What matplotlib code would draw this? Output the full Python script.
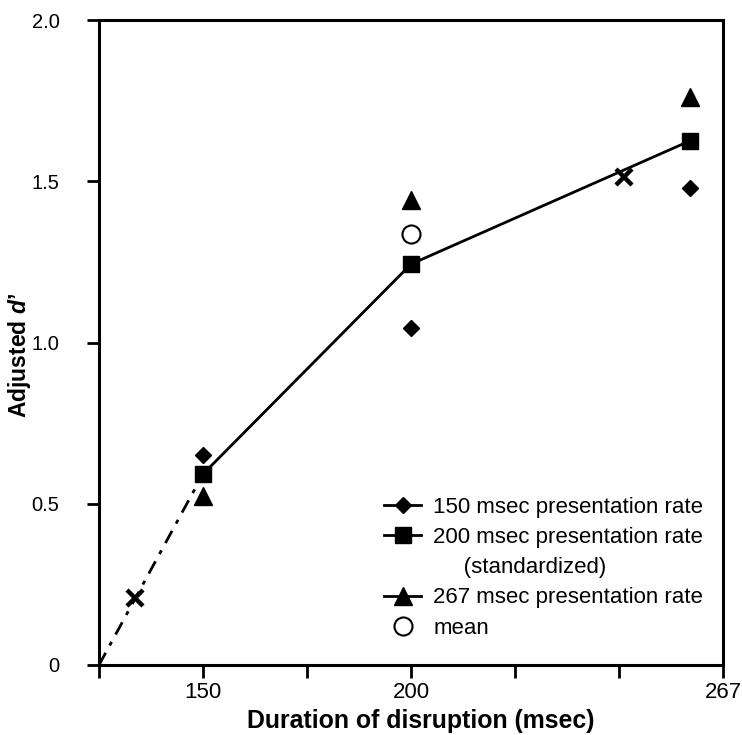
import matplotlib
matplotlib.use("Agg")
import matplotlib.pyplot as plt
from matplotlib.lines import Line2D

plt.rcParams['font.family'] = ['Liberation Sans', 'DejaVu Sans']
plt.rcParams['mathtext.fontset'] = 'custom'
plt.rcParams['mathtext.it'] = 'Liberation Sans:bold:italic'
plt.rcParams['mathtext.rm'] = 'Liberation Sans:bold'

# ---- data ----
durations = [150, 200, 267]
rate150 = [0.651, 1.045, 1.478]
rate200 = [0.592, 1.243, 1.625]
rate267 = [0.525, 1.443, 1.760]
mean_x = [200]
mean_y = [1.336]
interp_x = [133.7, 251.1]
interp_y = [0.208, 1.512]
extrap_x = [125, 150]
extrap_y = [0.0, 0.592]

xtick_pos = [125, 150, 175, 200, 225, 250, 275]
xtick_labels = ['', '150', '', '200', '', '', '267']
ytick_pos = [0, 0.5, 1.0, 1.5, 2.0]
ytick_labels = ['0', '0.5', '1.0', '1.5', '2.0']

legend_labels = ['150 msec presentation rate', '200 msec presentation rate',
                 '     (standardized)', '267 msec presentation rate', 'mean']

fig = plt.figure(figsize=(7.42, 7.35), dpi=100)
ax = fig.add_axes([99/742, 70/735, 624/742, 645/735])

ax.plot(extrap_x, extrap_y, color='black', lw=2, dashes=[5, 3, 1.5, 3], zorder=2)
ax.plot(durations, rate200, color='black', lw=2, zorder=2)
ax.plot(durations, rate150, ls='none', marker='D', ms=8.5, color='black', zorder=3)
ax.plot(durations, rate200, ls='none', marker='s', ms=11, color='black', zorder=3)
ax.plot(durations, rate267, ls='none', marker='^', ms=13, color='black', zorder=3)
ax.plot(mean_x, mean_y, ls='none', marker='o', ms=13, mfc='white', mec='black', mew=1.5, zorder=3)
ax.plot(interp_x, interp_y, ls='none', marker='x', ms=11, mew=3.2, color='black', zorder=4)

ax.set_xlim(125, 275)
ax.set_ylim(0, 2.0)
ax.set_xticks(xtick_pos)
ax.set_xticklabels(xtick_labels)
ax.set_yticks(ytick_pos)
ax.set_yticklabels(ytick_labels)
ax.tick_params(axis='both', direction='out', length=9, width=2)
ax.tick_params(axis='x', labelsize=16, pad=3)
ax.tick_params(axis='y', labelsize=14.5, pad=19.5)
for s in ax.spines.values():
    s.set_linewidth(2.2)

ax.set_xlabel('Duration of disruption (msec)', fontsize=17.9, fontweight='bold')
ax.xaxis.set_label_coords(0.516, -0.068)
ax.set_ylabel('Adjusted $d$’', fontsize=16.5, fontweight='bold')
ax.yaxis.set_label_coords(-0.106, 0.48)

handles = [
    Line2D([], [], color='black', lw=2, marker='D', ms=8.5),
    Line2D([], [], color='black', lw=2, marker='s', ms=11),
    Line2D([], [], color='none', lw=0),
    Line2D([], [], color='black', lw=2, marker='^', ms=13),
    Line2D([], [], ls='none', marker='o', ms=13, mfc='white', mec='black', mew=1.5),
]
fig.legend(handles, legend_labels, loc='upper left', bbox_to_anchor=(373/742, 1 - 486/735),
           bbox_transform=fig.transFigure, frameon=False, fontsize=16, borderpad=0,
           handlelength=1.67, handletextpad=0.55, labelspacing=0.41)

fig.savefig('out.png', dpi=100)
